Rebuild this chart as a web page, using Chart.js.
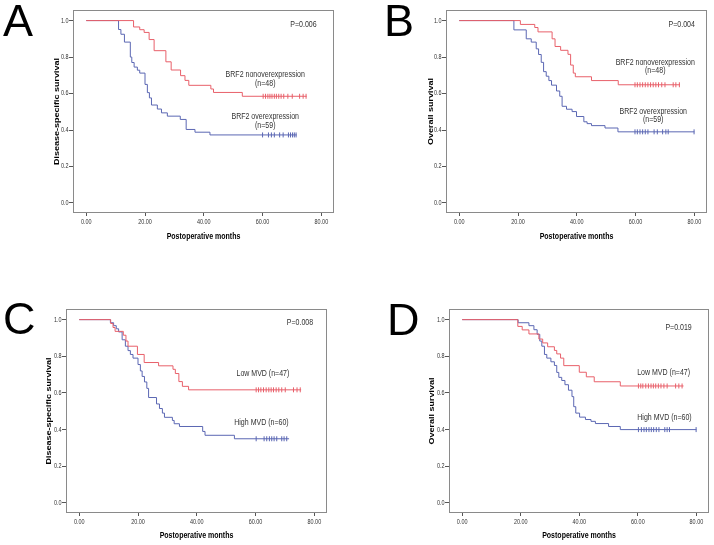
<!DOCTYPE html>
<html>
<head>
<meta charset="utf-8">
<script src="https://cdn.jsdelivr.net/npm/chart.js@4.4.1/dist/chart.umd.min.js"></script>
<style>
body{margin:0;background:#fff;}
#wrap{position:relative;width:714px;height:545px;overflow:hidden;}
canvas{position:absolute;}
</style>
</head>
<body>
<div id="wrap">
<canvas id="panelA" width="357" height="272" style="left:0;top:0"></canvas>
<canvas id="panelB" width="357" height="272" style="left:357px;top:0"></canvas>
<canvas id="panelC" width="357" height="273" style="left:0;top:272px"></canvas>
<canvas id="panelD" width="357" height="273" style="left:357px;top:272px"></canvas>
</div>
<script>
// axis ticks
const xTicks=[0,20,40,60,80];
const yTicks=[0,0.2,0.4,0.6,0.8,1.0];

// A: disease-specific survival by BRF2
const aNonTimes=[0,16.1,18.2,19.7,21.4,23.1,27.1,28.9,32.1,33.6,34.9,42.4,43.3,53.1,75.0];
const aNonSurv=[1,0.965,0.95,0.935,0.896,0.835,0.774,0.729,0.698,0.672,0.645,0.625,0.606,0.585,0.585];
const aNonCensor=[60.2,61.0,61.8,62.5,63.2,64.0,64.7,65.5,66.3,67.2,68.6,70.1,72.6,73.8,74.8];
const aOverTimes=[0,11.0,11.8,13.0,15.0,15.5,16.3,17.4,18.2,20.0,20.8,21.5,22.2,24.2,25.6,27.6,32.0,34.0,37.0,42.1,71.6];
const aOverSurv=[1,0.951,0.925,0.882,0.80,0.77,0.745,0.728,0.712,0.65,0.605,0.576,0.537,0.515,0.494,0.476,0.458,0.403,0.388,0.373,0.373];
const aOverCensor=[60.0,62.0,63.0,64.0,65.8,67.0,68.8,69.5,70.2,70.8,71.4];

// B: overall survival by BRF2
const bNonTimes=[0,20.8,25.7,26.8,31.6,32.6,34.5,37.0,37.9,38.8,39.5,45.0,54.1,75.1];
const bNonSurv=[1,0.979,0.962,0.938,0.9,0.858,0.837,0.815,0.756,0.712,0.692,0.671,0.648,0.648];
const bNonCensor=[59.8,60.6,61.5,62.4,63.3,64.2,65.1,66.0,66.9,67.8,68.9,70.0,72.8,73.7,74.9];
const bOverTimes=[0,18.6,22.8,24.5,26.2,27.0,27.9,28.7,29.6,30.5,31.4,33.1,34.2,35.0,36.5,38.4,39.9,42.4,43.5,45.0,49.6,54.0,80.0];
const bOverSurv=[1,0.949,0.9,0.882,0.845,0.814,0.771,0.72,0.695,0.671,0.646,0.614,0.585,0.53,0.514,0.501,0.474,0.445,0.435,0.424,0.411,0.39,0.39];
const bOverCensor=[59.8,60.6,61.5,62.4,63.3,64.2,66.3,67.4,69.2,70.3,71.1,79.9];

// C: disease-specific survival by MVD
const cLowTimes=[0,10.7,11.5,12.2,15.0,15.9,16.6,19.8,22.1,27.0,31.9,32.7,33.9,35.1,37.2,75.5];
const cLowSurv=[1,0.979,0.957,0.936,0.915,0.883,0.855,0.81,0.766,0.748,0.729,0.706,0.662,0.636,0.617,0.617];
const cLowCensor=[60.2,61.0,61.8,62.7,63.6,64.5,65.3,66.1,67.0,67.9,68.9,70.1,72.9,74.1,75.2];
const cHighTimes=[0,10.6,11.7,12.6,13.4,14.6,15.7,16.6,17.4,18.3,20.0,20.8,21.4,22.2,23.0,23.6,26.3,27.3,28.3,29.0,31.7,32.3,34.1,42.0,42.8,52.8,71.4];
const cHighSurv=[1,0.983,0.967,0.95,0.933,0.89,0.855,0.831,0.81,0.79,0.755,0.72,0.69,0.66,0.625,0.575,0.54,0.515,0.49,0.467,0.45,0.432,0.417,0.39,0.369,0.35,0.35];
const cHighCensor=[60.2,62.9,63.8,64.7,65.5,66.3,67.2,68.9,69.7,70.6];

// D: overall survival by MVD
const dLowTimes=[0,19.0,20.5,22.8,26.2,27.5,29.2,31.5,32.3,33.6,34.7,40.0,42.4,45.1,54.0,75.6];
const dLowSurv=[1,0.963,0.944,0.922,0.894,0.873,0.852,0.832,0.813,0.79,0.749,0.713,0.688,0.661,0.638,0.638];
const dLowCensor=[60.2,61.0,61.7,62.7,63.6,64.5,65.3,66.1,67.0,67.9,68.9,70.0,72.9,74.0,75.1];
const dHighTimes=[0,19.1,22.8,24.5,25.6,26.5,27.2,28.1,28.9,30.3,31.5,32.3,33.0,34.0,35.1,36.3,37.5,38.1,38.8,40.1,42.1,44.0,45.5,50.0,54.0,80.0];
const dHighSurv=[1,0.983,0.967,0.945,0.92,0.883,0.855,0.81,0.79,0.77,0.75,0.712,0.685,0.668,0.645,0.615,0.58,0.525,0.49,0.468,0.455,0.445,0.433,0.417,0.4,0.4];
const dHighCensor=[60.2,61.2,62.1,62.9,63.8,64.6,65.4,66.3,67.2,69.2,70.0,70.8,79.9];

const RED='#e8606a';
const BLUE='#5b67b3';
const FONT='"Liberation Sans", Arial, sans-serif';
const SQUEEZE=0.78; // the figure is squashed sideways

// text drawn narrower than the font, like the original export
function squished(ctx,text,x,y,align,rot){
  ctx.save();
  ctx.translate(x,y);
  if(rot){ctx.rotate(-Math.PI/2);ctx.scale(1,SQUEEZE);}
  else ctx.scale(SQUEEZE,1);
  ctx.textAlign=align;
  ctx.fillText(text,0,0);
  ctx.restore();
}

// frame, tick labels, titles, notes and panel letter
const framePlugin={
  id:'frame',
  afterDraw(chart,args,opts){
    const ctx=chart.ctx, a=chart.chartArea, sx=chart.scales.x, sy=chart.scales.y;
    ctx.save();
    ctx.strokeStyle='#8a8a8a';
    ctx.lineWidth=1;
    ctx.strokeRect(a.left+0.5,a.top+0.5,a.right-a.left-1,a.bottom-a.top-1);
    ctx.textBaseline='middle';
    ctx.fillStyle='#333';
    ctx.font='7px '+FONT;
    sx.ticks.forEach(t=>squished(ctx,Number(t.value).toFixed(2),sx.getPixelForValue(t.value),a.bottom+9,'center'));
    sy.ticks.forEach(t=>squished(ctx,Number(t.value).toFixed(1),a.left-4.5,sy.getPixelForValue(t.value),'right'));
    ctx.fillStyle='#000';
    ctx.font='bold 9px '+FONT;
    squished(ctx,opts.xTitle,(a.left+a.right)/2,a.bottom+opts.xTitleGap,'center');
    squished(ctx,opts.yTitle,a.left-opts.yTitleGap,(a.top+a.bottom)/2,'center',true);
    ctx.fillStyle='#333';
    ctx.font='9px '+FONT;
    opts.notes.forEach(n=>squished(ctx,n.text,sx.getPixelForValue(n.x),sy.getPixelForValue(n.y),'center'));
    ctx.fillStyle='#000';
    ctx.textAlign='left';
    ctx.textBaseline='alphabetic';
    ctx.font='45px '+FONT;
    ctx.fillText(opts.letter,opts.lx,opts.ly);
    ctx.restore();
  }
};

function curve(times,surv,color){
  return {type:'line',data:times.map((t,i)=>({x:t,y:surv[i]})),borderColor:color,borderWidth:1,
    stepped:true,pointRadius:0,fill:false};
}
function marks(censor,surv,color){
  const last=surv[surv.length-1];
  return {type:'scatter',data:censor.map(t=>({x:t,y:last})),borderColor:color,backgroundColor:color,
    pointStyle:'line',rotation:90,pointRadius:2.5,borderWidth:1,showLine:false};
}

function makePanel(p){
  new Chart(document.getElementById(p.id),{
    data:{datasets:[
      curve(p.redT,p.redS,RED),marks(p.redC,p.redS,RED),
      curve(p.blueT,p.blueS,BLUE),marks(p.blueC,p.blueS,BLUE)
    ]},
    plugins:[framePlugin],
    options:{
      responsive:false,
      animation:false,
      layout:{padding:p.pad},
      plugins:{legend:{display:false},tooltip:{enabled:false},
        frame:{notes:p.notes,letter:p.letter,lx:p.lx,ly:p.ly,xTitle:'Postoperative months',yTitle:p.yTitle,
          xTitleGap:p.xTitleGap,yTitleGap:p.yTitleGap}},
      scales:{
        x:{type:'linear',min:-4.5,max:84.3,
          afterBuildTicks:s=>{s.ticks=xTicks.map(v=>({value:v}));},
          afterFit:s=>{s.height=p.xH;},
          ticks:{display:false},
          grid:{drawOnChartArea:false,drawTicks:true,tickLength:3,color:'#555'},
          border:{display:false}
        },
        y:{type:'linear',min:-0.055,max:1.058,
          afterBuildTicks:s=>{s.ticks=yTicks.map(v=>({value:v}));},
          afterFit:s=>{s.width=p.yW;},
          ticks:{display:false},
          grid:{drawOnChartArea:false,drawTicks:true,tickLength:4,color:'#555'},
          border:{display:false}
        }
      }
    }
  });
}

makePanel({id:'panelA',letter:'A',lx:3,ly:36,pad:{top:10,left:0,right:23,bottom:0},yW:73,xH:59,
  yTitle:'Disease-specific survival',yTitleGap:16,xTitleGap:24,
  redT:aNonTimes,redS:aNonSurv,redC:aNonCensor,blueT:aOverTimes,blueS:aOverSurv,blueC:aOverCensor,
  notes:[{text:'P=0.006',x:73.9,y:0.976},{text:'BRF2 nonoverexpression',x:60.9,y:0.702},{text:'(n=48)',x:60.9,y:0.657},
    {text:'BRF2 overexpression',x:60.9,y:0.473},{text:'(n=59)',x:60.9,y:0.422}]});

makePanel({id:'panelB',letter:'B',lx:27,ly:36,pad:{top:10,left:0,right:7,bottom:0},yW:89,xH:59,
  yTitle:'Overall survival',yTitleGap:15,xTitleGap:24,
  redT:bNonTimes,redS:bNonSurv,redC:bNonCensor,blueT:bOverTimes,blueS:bOverSurv,blueC:bOverCensor,
  notes:[{text:'P=0.004',x:75.7,y:0.976},{text:'BRF2 nonoverexpression',x:66.7,y:0.77},{text:'(n=48)',x:66.7,y:0.724},
    {text:'BRF2 overexpression',x:66.0,y:0.501},{text:'(n=59)',x:66.0,y:0.455}]});

makePanel({id:'panelC',letter:'C',lx:3,ly:62,pad:{top:37,left:0,right:30,bottom:0},yW:66,xH:32,
  yTitle:'Disease-specific survival',yTitleGap:17,xTitleGap:23,
  redT:cLowTimes,redS:cLowSurv,redC:cLowCensor,blueT:cHighTimes,blueS:cHighSurv,blueC:cHighCensor,
  notes:[{text:'P=0.008',x:75.1,y:0.985},{text:'Low MVD (n=47)',x:62.5,y:0.706},{text:'High MVD (n=60)',x:62.0,y:0.436}]});

makePanel({id:'panelD',letter:'D',lx:30,ly:63,pad:{top:37,left:0,right:5,bottom:0},yW:92,xH:32,
  yTitle:'Overall survival',yTitleGap:17,xTitleGap:23,
  redT:dLowTimes,redS:dLowSurv,redC:dLowCensor,blueT:dHighTimes,blueS:dHighSurv,blueC:dHighCensor,
  notes:[{text:'P=0.019',x:73.9,y:0.955},{text:'Low MVD (n=47)',x:68.8,y:0.71},{text:'High MVD (n=60)',x:69.1,y:0.465}]});
</script>
</body>
</html>
